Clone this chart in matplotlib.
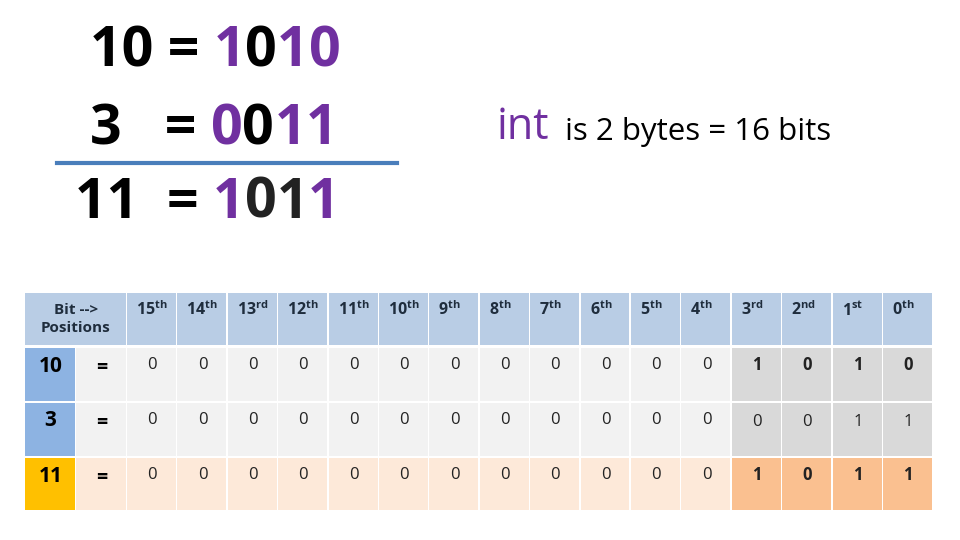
import matplotlib
matplotlib.use("Agg")
import matplotlib.pyplot as plt
from matplotlib.patches import Rectangle

positions = ["15th","14th","13rd","12th","11th","10th","9th","8th","7th","6th","5th","4th","3rd","2nd","1st","0th"]
row_labels = ["10", "3", "11"]
bits_10 = [0]*12 + [1,0,1,0]
bits_3 = [0]*12 + [0,0,1,1]
bits_11 = [0]*12 + [1,0,1,1]
rows = [bits_10, bits_3, bits_11]

PURPLE = "#7030A0"
fig = plt.figure(figsize=(9.6, 5.4), dpi=100)
ax = fig.add_axes([0, 0, 1, 1])
ax.set_xlim(0, 960); ax.set_ylim(540, 0); ax.axis("off")
FONT = "Open Sans"

# Equations
eqs = [("10 = ", "1010", [PURPLE, "black", PURPLE, PURPLE], 90, 52),
       ("3   = ", "0011", [PURPLE, "black", PURPLE, PURPLE], 90, 130),
       ("11  = ", "1011", [PURPLE, "#222", "#222", PURPLE], 75, 203)]
for lhs, rhs, cols, x0, y in eqs:
    t = ax.text(x0, y, lhs, fontsize=40, fontweight="bold", family=FONT, va="center", ha="left")
    fig.canvas.draw()
    bb = t.get_window_extent().transformed(ax.transData.inverted())
    x = bb.x1
    for ch, c in zip(rhs, cols):
        tt = ax.text(x, y, ch, fontsize=40, fontweight="bold", family=FONT, va="center", ha="left", color=c)
        fig.canvas.draw()
        x = tt.get_window_extent().transformed(ax.transData.inverted()).x1
ax.plot([57, 397], [163, 163], color="#4A7EBB", lw=3)

ax.text(497, 128, "int", fontsize=31, color=PURPLE, family=FONT, va="center")
ax.text(565, 132, "is 2 bytes = 16 bits", fontsize=22.5, color="black", family=FONT, va="center")

# Table
x0, cw0, cw1, cw = 25, 51, 51, 50.4
row_y = [293, 348, 403, 458]
row_h = [52, 54, 54, 53]
GAP = 1.5
ax.add_patch(Rectangle((x0, row_y[0]), cw0 + cw1 - GAP, row_h[0], fc="#B9CDE5", ec="none"))
ax.text(x0 + (cw0 + cw1) / 2, row_y[0] + row_h[0] / 2, "Bit -->\nPositions", ha="center", va="center",
        fontsize=11, fontweight="bold", color="#1F2D3D", family=FONT, linespacing=1.4)
cx0 = x0 + cw0 + cw1
for j, p in enumerate(positions):
    xx = cx0 + j * cw
    ax.add_patch(Rectangle((xx, row_y[0]), cw - GAP, row_h[0], fc="#B9CDE5", ec="none"))
    num, suf = p[:-2], p[-2:]
    ax.text(xx + 9, row_y[0] + 17, f"{num}$^{{\\mathregular{{{suf}}}}}$", fontsize=11.5, fontweight="bold",
            color="#1F2D3D", family=FONT, va="center", ha="left")

lab_colors = ["#8DB3E2", "#8DB3E2", "#FFC000"]
light = ["#F2F2F2", "#F2F2F2", "#FDE9D9"]
dark = ["#D9D9D9", "#D9D9D9", "#FAC090"]
for i, (lab, bits) in enumerate(zip(row_labels, rows)):
    y, h = row_y[i + 1], row_h[i + 1]
    ax.add_patch(Rectangle((x0, y), cw0 - GAP, h - GAP, fc=lab_colors[i], ec="none"))
    ax.text(x0 + cw0 / 2, y + 18, lab, ha="center", va="center", fontsize=15, fontweight="bold", family=FONT)
    ax.add_patch(Rectangle((x0 + cw0, y), cw1 - GAP, h - GAP, fc=light[i], ec="none"))
    ax.text(x0 + cw0 + cw1 / 2, y + 20, "=", ha="center", va="center", fontsize=14, fontweight="bold", family=FONT)
    for j, b in enumerate(bits):
        xx = cx0 + j * cw
        hi = j >= 12
        ax.add_patch(Rectangle((xx, y), cw - GAP, h - GAP, fc=dark[i] if hi else light[i], ec="none"))
        bold = hi and i != 1
        ax.text(xx + cw / 2, y + (17 if not (hi and i == 1) else 19), str(b), ha="center", va="center",
                fontsize=12, fontweight="bold" if bold else "normal", family=FONT, color="#222")

fig.savefig("out.png", dpi=100)
